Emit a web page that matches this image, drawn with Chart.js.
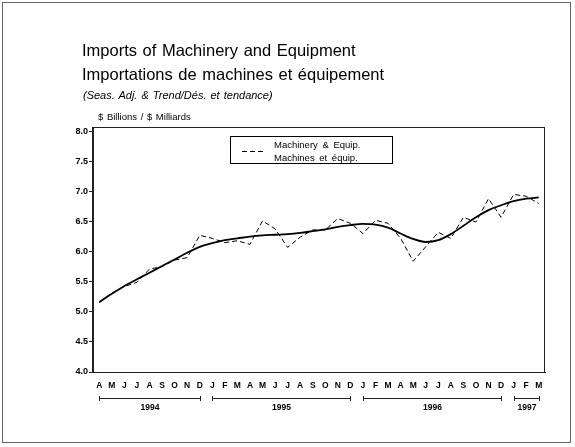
<!DOCTYPE html>
<html>
<head>
<meta charset="utf-8">
<script src="https://cdn.jsdelivr.net/npm/chart.js@4"></script>
<style>
    body { margin: 0; background: #fff; font-family: "Liberation Sans", Arial, sans-serif; }
    #wrap { position: relative; width: 575px; height: 447px; overflow: hidden; }
    #frame { position: absolute; left: 2px; top: 2px; width: 569px; height: 441px; border: 1px solid #666; box-sizing: border-box; }
    .txt { position: absolute; white-space: nowrap; color: #000; }
    #title { left: 82px; top: 38px; font-size: 16.5px; line-height: 24px; word-spacing: 1px; }
    #subtitle { left: 83px; top: 90px; font-size: 11px; line-height: 11px; font-style: italic; word-spacing: 1px; }
    #unit { left: 98px; top: 112px; font-size: 9.5px; line-height: 10px; word-spacing: 1px; }
    #legend { position: absolute; left: 230px; top: 136px; width: 163px; height: 28px; border: 1px solid #000; box-sizing: border-box; background: #fff; }
    #legend svg { position: absolute; left: 11px; top: 13px; }
    #legend .lt { position: absolute; left: 43px; font-size: 9.5px; line-height: 10px; word-spacing: 2px; }
    #chartContainer { position: absolute; left: 0; top: 0; width: 575px; height: 447px; }
</style>
</head>
<body>
<div id="wrap">
    <div id="frame"></div>
    <div id="chartContainer"><canvas id="myChart" width="575" height="447"></canvas></div>
    <div class="txt" id="title">Imports of Machinery and Equipment<br>Importations de machines et équipement</div>
    <div class="txt" id="subtitle">(Seas. Adj. &amp; Trend/Dés. et tendance)</div>
    <div class="txt" id="unit">$ Billions / $ Milliards</div>
    <div id="legend">
        <svg width="24" height="3"><line x1="0" y1="1.5" x2="24" y2="1.5" stroke="#000" stroke-width="1" stroke-dasharray="5,3"></line></svg>
        <div class="lt" style="top:3px">Machinery &amp; Equip.</div>
        <div class="lt" style="top:16px">Machines et équip.</div>
    </div>
</div>
<script>
// Monate April 1994 bis März 1997
var months = ['A', 'M', 'J', 'J', 'A', 'S', 'O', 'N', 'D',
    'J', 'F', 'M', 'A', 'M', 'J', 'J', 'A', 'S', 'O', 'N', 'D',
    'J', 'F', 'M', 'A', 'M', 'J', 'J', 'A', 'S', 'O', 'N', 'D',
    'J', 'F', 'M'];

// Saisonbereinigte Werte (gestrichelt)
var seasAdj = [5.16, 5.31, 5.42, 5.49, 5.71, 5.75, 5.86, 5.90, 6.27,
    6.22, 6.15, 6.18, 6.12, 6.51, 6.38, 6.07, 6.24, 6.36, 6.36, 6.55, 6.47,
    6.30, 6.52, 6.47, 6.22, 5.84, 6.08, 6.32, 6.22, 6.57, 6.49, 6.88, 6.57,
    6.95, 6.92, 6.80];

// Trend (durchgezogen)
var trend = [5.16, 5.30, 5.43, 5.54, 5.65, 5.76, 5.87, 5.98, 6.08,
    6.14, 6.19, 6.22, 6.25, 6.27, 6.28, 6.29, 6.31, 6.34, 6.37, 6.41, 6.44,
    6.46, 6.45, 6.40, 6.30, 6.21, 6.16, 6.19, 6.29, 6.43, 6.57, 6.69, 6.77,
    6.84, 6.88, 6.90];

var yTicks = [4.0, 4.5, 5.0, 5.5, 6.0, 6.5, 7.0, 7.5, 8.0];

// Jahresklammern unter der x-Achse
var yearLabels = ['1994', '1995', '1996', '1997'];
var yearStart = [0, 9, 21, 33];
var yearEnd = [8, 20, 32, 35];

document.addEventListener('DOMContentLoaded', (event) => {
    drawChart();
});

// Rahmen oben/rechts und Jahresklammern
var extrasPlugin = {
    id: 'extras',
    afterDraw: function (chart) {
        var ctx = chart.ctx;
        var area = chart.chartArea;
        var x = chart.scales.x;
        ctx.save();
        ctx.strokeStyle = '#222';
        ctx.lineWidth = 1;
        ctx.strokeRect(Math.round(area.left) - 0.5, Math.round(area.top) + 0.5,
            Math.round(area.right - area.left), Math.round(area.bottom - area.top));

        var by = 398.5;
        ctx.fillStyle = '#000';
        ctx.font = 'bold 8.5px "Liberation Sans", Arial, sans-serif';
        ctx.textAlign = 'center';
        ctx.textBaseline = 'middle';
        for (var i = 0; i < yearLabels.length; i++) {
            var x1 = Math.round(x.getPixelForValue(yearStart[i])) + 0.5;
            var x2 = Math.round(x.getPixelForValue(yearEnd[i])) + 0.5;
            ctx.beginPath();
            ctx.moveTo(x1, by); ctx.lineTo(x2, by);
            ctx.moveTo(x1, by - 2.5); ctx.lineTo(x1, by + 2.5);
            ctx.moveTo(x2, by - 2.5); ctx.lineTo(x2, by + 2.5);
            ctx.stroke();
            ctx.fillText(yearLabels[i], (x1 + x2) / 2, 408);
        }
        ctx.restore();
    }
};

function drawChart() {
    var ctx = document.getElementById('myChart').getContext('2d');
    var myChart = new Chart(ctx, {
        type: 'line',
        data: {
            labels: months,
            datasets: [{
                label: 'Machinery & Equip.',
                data: seasAdj,
                borderColor: '#000',
                borderWidth: 1,
                borderDash: [5, 3],
                pointRadius: 0,
                tension: 0
            }, {
                label: 'Trend',
                data: trend,
                borderColor: '#000',
                borderWidth: 1.8,
                pointRadius: 0,
                cubicInterpolationMode: 'monotone'
            }]
        },
        options: {
            responsive: false,
            animation: false,
            layout: { padding: { left: 0, right: 30, top: 127, bottom: 0 } },
            plugins: {
                legend: { display: false },
                tooltip: { enabled: false }
            },
            scales: {
                x: {
                    offset: true,
                    grid: { display: false, drawTicks: false },
                    border: { display: true, color: '#222', width: 1 },
                    ticks: {
                        autoSkip: false,
                        maxRotation: 0,
                        padding: 9,
                        color: '#000',
                        font: { family: '"Liberation Sans", Arial, sans-serif', size: 8.5, weight: 'bold' }
                    },
                    afterFit: function (scale) { scale.height = 75; }
                },
                y: {
                    min: 4,
                    max: 8.07,
                    afterBuildTicks: function (scale) {
                        scale.ticks = yTicks.map(function (v) { return { value: v }; });
                    },
                    grid: { drawOnChartArea: false, drawTicks: true, tickLength: 4, color: '#222' },
                    border: { display: true, color: '#222', width: 1 },
                    ticks: {
                        padding: 1,
                        color: '#000',
                        font: { family: '"Liberation Sans", Arial, sans-serif', size: 9, weight: 'bold' },
                        callback: function (value) { return Number(value).toFixed(1); }
                    },
                    afterFit: function (scale) { scale.width = 93; }
                }
            }
        },
        plugins: [extrasPlugin]
    });
}
</script>
</body>
</html>
